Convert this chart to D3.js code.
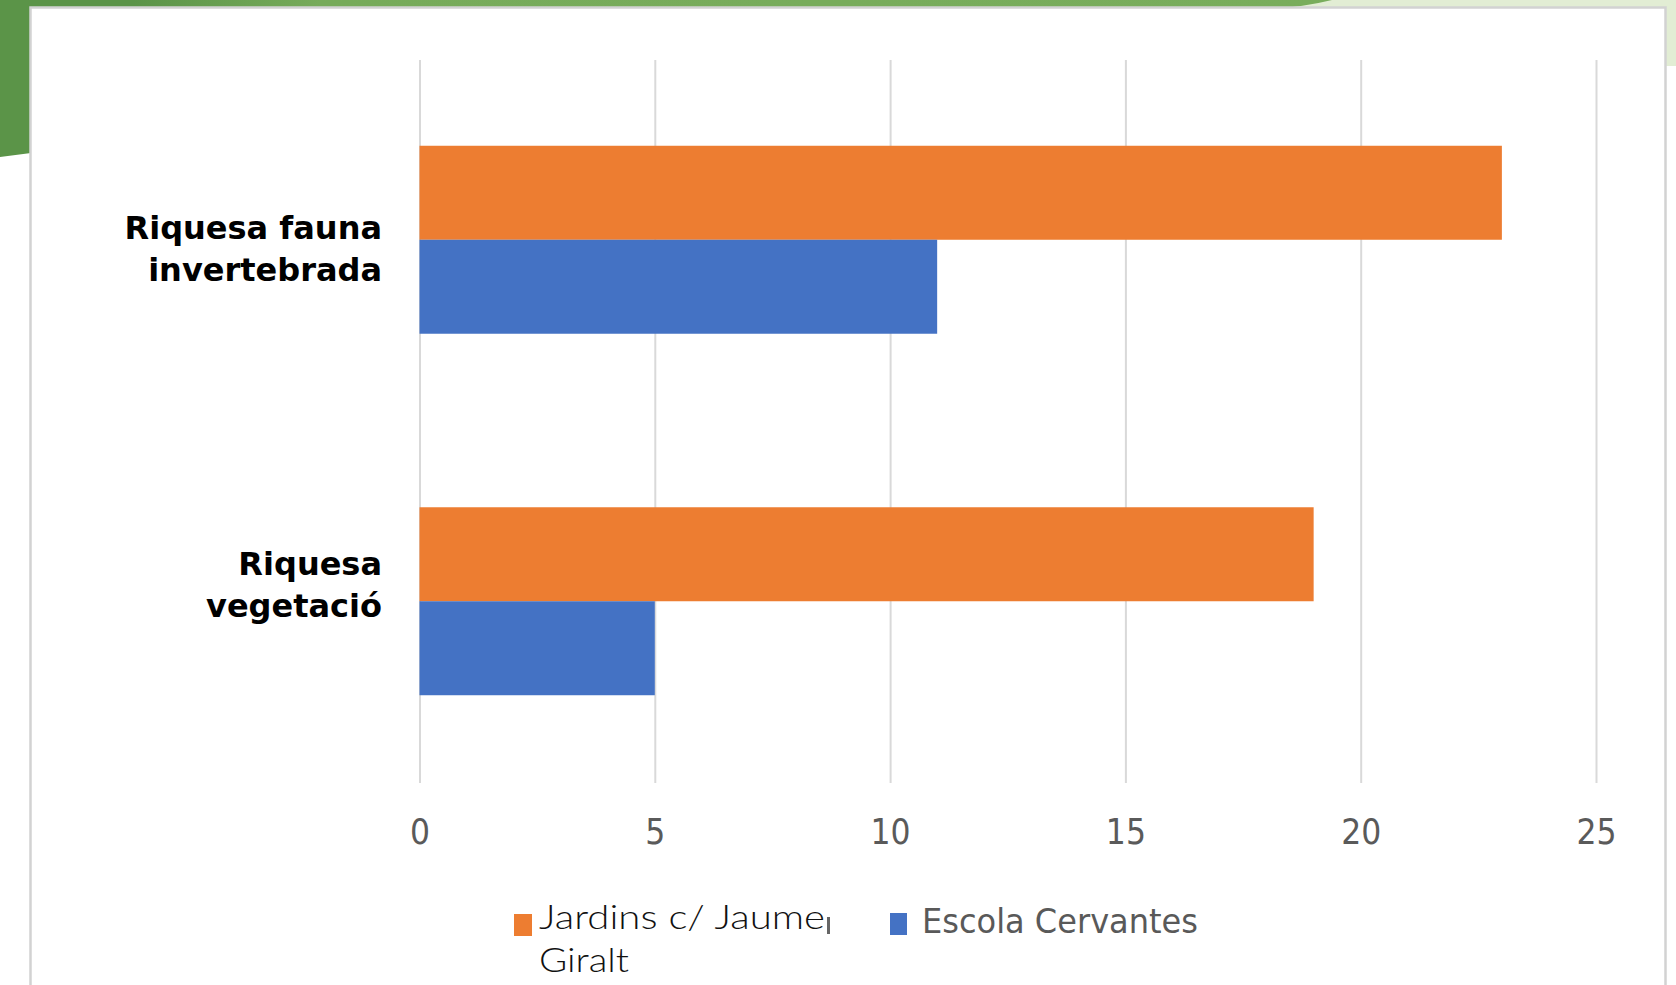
<!DOCTYPE html>
<html><head><meta charset="utf-8">
<script src="https://cdn.jsdelivr.net/npm/d3@7"></script>
<style>html,body{margin:0;padding:0;background:#fff;overflow:hidden}</style>
</head><body><svg id="c" width="1676" height="985"></svg>
<script>
// ---- data ----
const categories = ["Riquesa fauna invertebrada", "Riquesa vegetació"];
const categoryLines = [["Riquesa fauna", "invertebrada"], ["Riquesa", "vegetació"]];
const seriesNames = ["Jardins c/ Jaume Giralt", "Escola Cervantes"];
const legendLines = ["Jardins c/ Jaume", "Giralt"];
const jardinsValues = [23, 19];
const escolaValues = [11, 5];
const xTicks = [0, 5, 10, 15, 20, 25];
const seriesColors = ["#ed7d31", "#4472c4"];

// ---- layout ----
const W = 1676, H = 985;
const svg = d3.select("#c");
const defs = svg.append("defs");
const grad = defs.append("linearGradient").attr("id", "topg")
  .attr("gradientUnits", "userSpaceOnUse").attr("x1", 0).attr("x2", 1330).attr("y1", 0).attr("y2", 0);
grad.append("stop").attr("offset", "0.10").attr("stop-color", "#5b9448");
grad.append("stop").attr("offset", "0.24").attr("stop-color", "#77ab5a");
grad.append("stop").attr("offset", "1").attr("stop-color", "#79ad5c");

// decorative background
svg.append("rect").attr("x", 1200).attr("y", 0).attr("width", W - 1200).attr("height", 66).attr("fill", "#e2edd4");
svg.append("path").attr("d", "M0,0 L1332,0 Q1300,8 1255,10 L0,10 Z").attr("fill", "url(#topg)");
svg.append("path").attr("d", "M0,0 L31,0 L31,153 L0,157 Z").attr("fill", "#5b9448");
// card
svg.append("rect").attr("x", 30.5).attr("y", 7.5).attr("width", 1635).attr("height", 1000)
  .attr("fill", "#ffffff").attr("stroke", "#d2d2d2").attr("stroke-width", 2.5);

// scales
const x = d3.scaleLinear().domain([0, 25]).range([419.5, 1596]);
const gridTop = 60, gridBottom = 783;
const y = d3.scaleBand().domain(categories).range([59, 782]).paddingInner(0.48).paddingOuter(0.24);
const ySub = d3.scaleBand().domain(seriesNames).range([0, y.bandwidth()]);

// axis with gridlines
const axis = d3.axisBottom(x).tickValues(xTicks).tickSize(-(gridBottom - gridTop)).tickFormat(d3.format("d"));
const ag = svg.append("g").attr("transform", `translate(0,${gridBottom})`).call(axis);
ag.select(".domain").remove();
ag.selectAll(".tick line").attr("stroke", "#d9d9d9").attr("stroke-width", 2);
ag.selectAll(".tick text")
  .attr("y", 61).attr("dy", 0)
  .attr("fill", "#5a5a5a")
  .style("font-family", "'DejaVu Sans Condensed', 'Liberation Sans Narrow', sans-serif")
  .style("font-size", "35px")
  .attr("text-anchor", "middle");

// bars
const rows = categories.map((c, i) => ({ cat: c, vals: [jardinsValues[i], escolaValues[i]] }));
const grp = svg.append("g");
rows.forEach(r => {
  r.vals.forEach((v, j) => {
    grp.append("rect")
      .attr("x", x(0))
      .attr("y", y(r.cat) + ySub(seriesNames[j]))
      .attr("width", x(v) - x(0))
      .attr("height", ySub.bandwidth())
      .attr("fill", seriesColors[j]);
  });
});

// category labels
const labelFirstBaseline = [-1, -26]; // offset from band centre
const lineGap = 42;
categories.forEach((c, i) => {
  const cy = y(c) + y.bandwidth() / 2;
  const t = svg.append("text")
    .attr("text-anchor", "end")
    .attr("fill", "#000")
    .style("font-family", "'DejaVu Sans', sans-serif")
    .style("font-weight", "bold")
    .style("font-size", "32px");
  categoryLines[i].forEach((ln, k) => {
    t.append("tspan").attr("x", 382).attr("y", cy + labelFirstBaseline[i] + k * lineGap).text(ln);
  });
});

// legend
const lg = svg.append("g");
lg.append("rect").attr("x", 514).attr("y", 914).attr("width", 18).attr("height", 22).attr("fill", seriesColors[0]);
const legendFont = t => t.attr("fill", "#111")
  .style("font-family", "Lato, 'Open Sans', sans-serif").style("font-weight", 300).style("font-size", "34px");
legendFont(lg.append("text").attr("x", 539).attr("y", 929)
  .attr("textLength", 286).attr("lengthAdjust", "spacingAndGlyphs").text(legendLines[0]));
legendFont(lg.append("text").attr("x", 539).attr("y", 972)
  .attr("textLength", 90).attr("lengthAdjust", "spacingAndGlyphs").text(legendLines[1]));
lg.append("rect").attr("x", 827).attr("y", 917).attr("width", 3).attr("height", 17).attr("fill", "#666");
lg.append("rect").attr("x", 890).attr("y", 913).attr("width", 17).attr("height", 22).attr("fill", seriesColors[1]);
lg.append("text").attr("x", 922).attr("y", 933).attr("fill", "#595959")
  .attr("textLength", 276).attr("lengthAdjust", "spacingAndGlyphs")
  .style("font-family", "'DejaVu Sans Condensed', 'Liberation Sans Narrow', sans-serif").style("font-size", "33px")
  .text(seriesNames[1]);
</script>
</body></html>
